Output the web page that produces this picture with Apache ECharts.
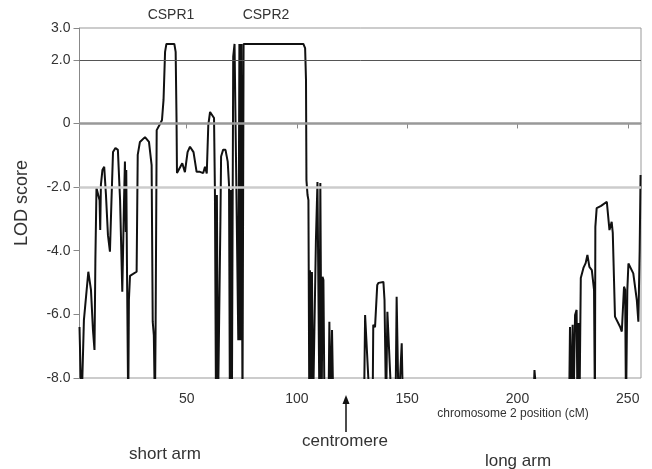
<!DOCTYPE html>
<html>
<head>
<meta charset="utf-8">
<title>LOD score chromosome 2</title>
<script src="https://cdn.jsdelivr.net/npm/echarts@6/dist/echarts.min.js"></script>
<style>
  html, body { margin: 0; padding: 0; background: #fff; }
  #chart { width: 652px; height: 469px; }
</style>
</head>
<body>
<div id="chart"></div>
<script>
// chromosome 2 position (cM)
const positions = [
  1.4, 2.3, 3.4, 5.4, 6.6, 7.5, 8.2, 8.6, 9.1, 10.0, 10.5, 10.8, 11.1, 11.8, 12.6, 13.4, 14.3, 15.2,
  15.9, 16.6, 17.7, 18.8, 19.8, 20.8, 21.6, 22.0, 22.4, 22.6, 22.9, 23.5, 23.8, 24.3, 25.7, 27.3,
  27.8, 28.8, 31.1, 32.9, 34.1, 34.6, 35.1, 35.6, 35.9, 36.4, 37.9, 38.8, 39.5, 40.2, 40.8, 44.4,
  45.0, 45.4, 45.6, 46.5, 48.0, 49.2, 50.4, 51.5, 53.1, 54.5, 56.0, 57.5, 58.3, 59.1, 59.8, 60.6,
  61.3, 62.4, 62.8, 63.3, 63.7, 64.2, 64.7, 65.3, 65.6, 66.5, 67.6, 68.6, 69.2, 69.6, 70.1, 70.5,
  71.1, 71.7, 72.6, 73.4, 73.9, 74.3, 74.8, 75.3, 75.8, 102.9, 103.7, 104.1, 104.3, 104.8, 105.2,
  105.6, 105.9, 106.4, 106.8, 107.3, 108.0, 108.6, 109.3, 109.8, 110.2, 110.6, 110.9, 111.2, 111.6,
  112.0, 112.5, 114.3, 114.7, 115.2, 115.9, 116.5, 130.4, 130.9, 133.1, 134.3, 134.6, 135.4, 136.4,
  137.0, 139.2, 139.7, 140.4, 141.0, 143.0, 144.7, 145.2, 146.1, 147.5, 148.1, 207.1, 207.7, 208.6,
  209.1, 223.4, 223.8, 224.3, 225.0, 225.4, 226.1, 226.8, 227.2, 227.7, 228.1, 228.7, 229.9, 230.9,
  231.7, 232.6, 233.7, 234.7, 235.1, 235.3, 235.9, 237.9, 240.5, 241.7, 242.7, 243.2, 244.2, 246.5,
  247.3, 248.3, 248.8, 249.2, 249.8, 250.3, 252.5, 254.1, 254.8, 255.4, 255.8
]
// LOD score at each position (-9 = below the -8.0 floor of the plot)
const lod = [
  -6.40, -9, -6.18, -4.66, -5.23, -6.49, -7.12, -4.29, -2.03, -1.97, -2.41, -3.35, -1.93, -1.46, -1.36, -2.25, -3.51, -4.03,
  -2.41, -0.90, -0.77, -0.83, -2.41, -5.29, -2.41, -1.20, -3.41, -1.46, -4.29, -9, -5.55, -4.79, -4.73, -4.66,
  -0.99, -0.58, -0.43, -0.58, -1.31, -6.23, -6.65, -9, -6.49, -0.21, -0.02, 0.11, 0.74, 2.25, 2.50, 2.50,
  2.25, 0.11, -1.56, -1.53, -1.25, -1.53, -0.90, -0.73, -0.90, -1.52, -1.52, -1.56, -1.36, -1.57, -0.05, 0.36,
  0.42, 0.17, -2.09, -9, -2.25, -9, -9, -3.03, -1.04, -0.83, -0.83, -1.20, -1.93, -9, -2.09, -9,
  2.10, 2.50, 2.50, -6.81, 2.50, -6.81, 2.50, -9, 2.50, 2.50, 2.37, 1.37, -1.78, -2.25, -2.41,
  -9, -4.61, -9, -4.67, -9, -9, -3.66, -1.84, -1.78, -9, -1.87, -1.87, -9, -4.82,
  -4.92, -9, -9, -6.23, -9, -6.49, -9, -9, -6.02, -9, -9, -6.33, -6.40, -5.08,
  -5.01, -4.98, -5.55, -9, -5.92, -9, -9, -5.45, -9, -6.91, -9, -9, -7.75, -7.78,
  -9, -9, -6.40, -9, -6.33, -9, -6.02, -5.86, -9, -6.27, -9, -4.86, -4.54, -4.39,
  -4.13, -4.51, -4.61, -5.23, -9, -3.25, -2.66, -2.59, -2.46, -3.35, -3.09, -3.44, -6.07, -6.39,
  -6.54, -5.13, -5.23, -9, -5.23, -4.40, -4.71, -5.55, -6.23, -3.98, -1.62
]
const xTicks = [50, 100, 150, 200, 250]
const yTicks = [-8, -6, -4, -2, 0, 2, 3]
const refLines = [2, 0, -2]

const font = "'Liberation Sans', Arial, sans-serif"
const chart = echarts.init(document.getElementById('chart'))

let points = []
for (let i = 0; i < positions.length; ++i) {
  points.push([positions[i], lod[i]])
}

// styles of the horizontal reference lines (2.0 / 0 / -2.0)
const refStyles = [
  { color: '#555', width: 1 },
  { color: '#999', width: 2.5 },
  { color: '#ccc', width: 2.5 }
]

function label(text, x, y, size) {
  return {
    type: 'text',
    x: x,
    y: y,
    style: { text: text, fill: '#333', font: size + 'px ' + font, textAlign: 'center', textVerticalAlign: 'middle' }
  }
}

const option = {
  animation: false,
  grid: {
    left: 79.5,
    right: 11,
    top: 28,
    bottom: 91,
    show: true,
    borderColor: '#999',
    borderWidth: 1
  },
  xAxis: {
    type: 'value',
    min: 1.4,
    max: 256,
    axisLine: { lineStyle: { color: '#888' } },
    axisTick: { customValues: xTicks, length: 5, lineStyle: { color: '#888' } },
    axisLabel: {
      customValues: xTicks,
      margin: 14,
      color: '#333',
      fontSize: 14,
      fontFamily: font
    },
    splitLine: { show: false }
  },
  yAxis: {
    type: 'value',
    min: -8,
    max: 3,
    name: 'LOD score',
    nameLocation: 'middle',
    nameRotate: 90,
    nameGap: 48,
    nameTextStyle: { color: '#333', fontSize: 18, fontFamily: font },
    axisLine: { show: true, lineStyle: { color: '#888' } },
    axisTick: { show: true, customValues: yTicks, length: 6, lineStyle: { color: '#888' } },
    axisLabel: {
      customValues: yTicks,
      margin: 9,
      color: '#333',
      fontSize: 14,
      fontFamily: font,
      formatter: function (value) {
        return value === 0 ? '0' : value.toFixed(1)
      }
    },
    splitLine: { show: false }
  },
  graphic: [
    label('CSPR1', 171, 15, 14),
    label('CSPR2', 266, 15, 14),
    label('chromosome 2 position (cM)', 513, 414, 12),
    // centromere arrow
    { type: 'line', shape: { x1: 346, y1: 432, x2: 346, y2: 402 }, style: { stroke: '#111', lineWidth: 1.5 } },
    { type: 'polygon', shape: { points: [[346, 395], [342.5, 404], [349.5, 404]] }, style: { fill: '#111' } },
    label('short arm', 165, 454, 17),
    label('centromere', 345, 441, 17),
    label('long arm', 518, 461, 17)
  ],
  series: [
    {
      name: 'LOD',
      type: 'line',
      data: points,
      showSymbol: false,
      clip: true,
      lineStyle: { color: '#111', width: 2 },
      markLine: {
        silent: true,
        symbol: 'none',
        label: { show: false },
        data: refLines.map(function (v, i) {
          return { yAxis: v, lineStyle: Object.assign({ type: 'solid' }, refStyles[i]) }
        })
      },
      z: 3
    }
  ]
}
chart.setOption(option)
</script>
</body>
</html>
